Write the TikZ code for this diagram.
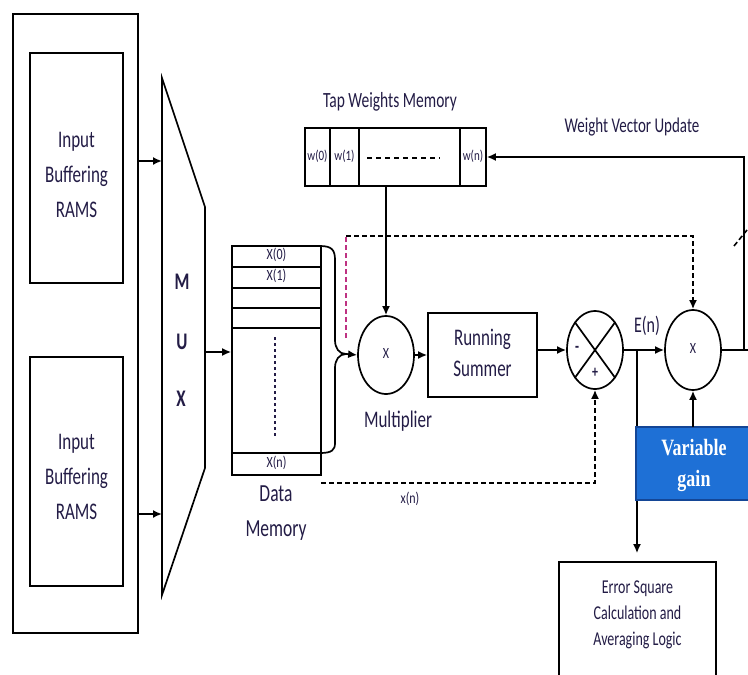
\documentclass[tikz,border=0pt]{standalone}
\usepackage{fontspec}
\setmainfont{Carlito}
\newfontfamily\serifvg{Liberation Serif}
\usepackage{graphicx}
\usetikzlibrary{arrows.meta,shapes.geometric}
\definecolor{txt}{RGB}{35,28,70}
\definecolor{vgblue}{RGB}{30,112,214}
\definecolor{vgedge}{RGB}{20,70,150}
\definecolor{mag}{RGB}{190,50,130}
\newcommand{\stx}[2][1.4]{\scalebox{1}[#1]{\begin{tabular}{@{}c@{}}#2\end{tabular}}}
\newcommand{\fsz}[2]{\fontsize{#1}{#2}\selectfont}
\begin{document}
\begin{tikzpicture}[x=1pt,y=-1pt,line width=1.7pt,
  box/.style={draw,rectangle,inner sep=0pt},
  circ/.style={draw,ellipse,inner sep=0pt,minimum width=56pt,minimum height=78pt},
  lbl/.style={text=txt,inner sep=0pt},
  arr/.style={-{Latex[length=9pt,width=8pt]}},
  dsh/.style={dash pattern=on 5pt off 3pt,line width=2pt}]
\useasboundingbox[fill=white] (0,0) rectangle (748,675);

% left: input buffers
\node[box,minimum width=125pt,minimum height=619pt] (outer) at (75.5,323.5) {};
\node[box,minimum width=93pt,minimum height=230pt] (ram1) at (76.5,168) {};
\node[box,minimum width=93pt,minimum height=229pt] (ram2) at (76.5,471.5) {};
\node[lbl,font=\fsz{17}{25}] (ram1t) at (76.5,175) {\stx{Input\\Buffering\\RAMS}};
\node[lbl,font=\fsz{17}{25}] (ram2t) at (76.5,477) {\stx{Input\\Buffering\\RAMS}};

% MUX
\draw (162,78) -- (205,207) -- (205,468) -- (162,595) -- cycle;
\coordinate (min1) at (162,161);
\coordinate (min2) at (162,514);
\coordinate (mout) at (205,352);
\node[lbl,font=\bfseries\fsz{17}{17}] (mM) at (182,285) {\stx{M}};
\node[lbl,font=\bfseries\fsz{17}{17}] (mU) at (182,345) {\stx{U}};
\node[lbl,font=\bfseries\fsz{17}{17}] (mX) at (181,402) {\stx{X}};
\draw[arr] (outer.east |- min1) -- (min1);
\draw[arr] (outer.east |- min2) -- (min2);

% data memory
\node[box,minimum width=89pt,minimum height=229pt] (dm) at (276.5,360.5) {};
\foreach \yy in {267,288,308,328,453} \draw (232,\yy) -- (321,\yy);
\node[lbl,font=\fsz{12}{12}] (x0) at (276.5,256.5) {\stx[1.3]{X(0)}};
\node[lbl,font=\fsz{12}{12}] (x1) at (276.5,277.5) {\stx[1.3]{X(1)}};
\node[lbl,font=\fsz{12}{12}] (xn) at (276.5,464) {\stx[1.3]{X(n)}};
\draw[txt,dash pattern=on 3pt off 3pt] (275,337) -- (275,438);
\draw[arr] (mout) -- (mout -| dm.west);
\node[lbl,font=\fsz{17.5}{25}] (dmt) at (276,512) {\stx{Data\\Memory}};

% brace
\coordinate (brtip) at (346,354);
\draw (320,246) .. controls (332,246) and (335,250) .. (335,260) -- (335,340)
  .. controls (335,348) and (339,354) .. (brtip)
  .. controls (339,354) and (335,360) .. (335,368) -- (335,443)
  .. controls (335,450) and (332,453) .. (320,453);

% tap weights memory
\node[box,minimum width=181pt,minimum height=58pt] (tap) at (395.5,157) {};
\foreach \xx in {330,359,460} \draw (\xx,128) -- (\xx,186);
\node[lbl,font=\fsz{11}{11}] (w0) at (317.5,157) {\stx[1.3]{w(0)}};
\node[lbl,font=\fsz{11}{11}] (w1) at (344.5,157) {\stx[1.3]{w(1)}};
\node[lbl,font=\fsz{11}{11}] (wn) at (473,157) {\stx[1.3]{w(n)}};
\draw[dash pattern=on 5pt off 4pt,line width=2pt] (367,158) -- (440,158);
\node[lbl,font=\fsz{15.5}{15.5}] (tapt) at (390,103) {\stx{Tap Weights Memory}};

% multiplier
\node[circ,text=txt,font=\fsz{12}{12}] (m1) at (386,355) {\stx[1.3]{X}};
\node[lbl,font=\fsz{17}{17}] (m1t) at (398,423) {\stx{Multiplier}};
\draw[arr] (brtip) -- (m1.west);
\draw[arr] (m1.north |- tap.south) -- (m1.north);

% running summer
\node[box,minimum width=109pt,minimum height=84pt] (sum) at (482.5,355) {};
\node[lbl,font=\fsz{17}{21.5}] (sumt) at (482.5,355) {\stx{Running\\Summer}};
\draw[arr] (m1.east) -- (m1.east -| sum.west);

% subtractor
\node[circ] (sub) at (595,350) {};
\draw (sub.north west) -- (sub.south east);
\draw (sub.north east) -- (sub.south west);
\node[lbl,font=\bfseries\fsz{13}{13}] (subm) at (577,349) {\stx{-}};
\node[lbl,font=\bfseries\fsz{12}{12}] (subp) at (595,374) {\stx{+}};
\draw[arr] (sum.east |- sub.west) -- (sub.west);

% second multiplier
\node[circ,minimum height=80pt,text=txt,font=\fsz{12}{12}] (m2) at (693,350) {\stx[1.3]{X}};
\draw[arr] (sub.east) -- (m2.west);
\node[lbl,font=\fsz{16}{16}] (en) at (647,328) {\stx{E(n)}};
\coordinate (jn) at (637,350);

% error square box
\node[inner sep=0pt,minimum width=155pt,minimum height=112pt] (err) at (637.5,619) {};
\draw (err.south west) -- (err.north west) -- (err.north east) -- (err.south east);
\node[lbl,font=\fsz{14}{18.6}] (errt) at (637.5,614) {\stx{Error Square\\Calculation and\\Averaging Logic}};
\draw[arr,shorten >=9pt] (jn) -- (jn |- err.north);

% variable gain
\node[fill=vgblue,inner sep=0pt,minimum width=111pt,minimum height=71pt] (vg) at (692.5,463.5) {};
\draw[vgedge,line width=2pt] (vg.north east) -- (vg.north west) -- (vg.south west) -- (vg.south east);
\node[font=\serifvg\bfseries\fsz{18}{24},text=white,inner sep=0pt] (vgt) at (694,465) {\stx[1.3]{Variable\\gain}};
\draw[arr] (vg.north -| m2.south) -- (m2.south);

% weight vector update loop
\coordinate (rr) at (748,350);
\coordinate (up) at (744,350);
\draw (m2.east) -- (rr);
\draw[arr] (up) |- (tap.east);
\node[lbl,font=\fsz{15}{15}] (wvu) at (632,128) {\stx{Weight Vector Update}};
\draw[dsh,line width=1.6pt] (734,246) -- (747,230);

% dashed x paths
\coordinate (dtop) at (346,236);
\draw[dsh,mag] (346,338) -- (dtop);
\draw[dsh,arr] (dtop) -- (dtop -| m2.north) -- (m2.north);
\coordinate (xs) at (321,483);
\draw[dsh,arr] (xs) -- (xs -| sub.south) -- (sub.south);
\node[lbl,font=\fsz{12}{12}] (xnl) at (410,500) {\stx[1.3]{x(n)}};
\end{tikzpicture}
\end{document}
